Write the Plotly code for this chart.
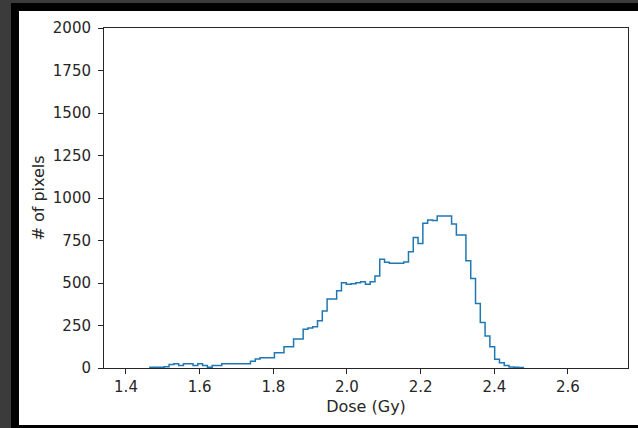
import numpy as np
import plotly.graph_objects as go

# Histogram definition (dose bins in Gy) and counts
BIN_START = 1.4
BIN_WIDTH = 0.013
counts = [
    0, 0, 0, 0, 0, 5, 5, 5, 8, 20,          # k 0-9
    25, 15, 25, 25, 15, 25, 15, 5, 15, 15,  # k 10-19
    25, 25, 25, 25, 25, 25, 40, 53, 60, 60, # k 20-29
    60, 90, 90, 125, 125, 170, 170, 228, 235, 243,  # k 30-39
    278, 335, 406, 406, 455, 502, 492, 495, 502, 508,  # k 40-49
    492, 508, 541, 639, 622, 616, 616, 616, 623, 684,  # k 50-59
    767, 733, 851, 870, 867, 894, 894, 894, 847, 782,  # k 60-69
    782, 631, 527, 380, 267, 188, 125, 51, 31, 14,     # k 70-79
    6, 4, 3, 0, 0, 0, 0, 0, 0, 0,                      # k 80-89
    0, 0, 0, 0, 0, 0, 0, 0, 0, 0,                      # k 90-99
]

x_ticks = [1.4, 1.6, 1.8, 2.0, 2.2, 2.4, 2.6]
x_tick_labels = ["1.4", "1.6", "1.8", "2.0", "2.2", "2.4", "2.6"]
y_ticks = [0, 250, 500, 750, 1000, 1250, 1500, 1750, 2000]
y_tick_labels = [str(v) for v in y_ticks]

edges = BIN_START + BIN_WIDTH * np.arange(len(counts) + 1)
# the zero-count stretches lie on the axis line (hidden, as in matplotlib)
nz = np.nonzero(counts)[0]
i0, i1 = nz[0], nz[-1] + 1
c = list(counts[i0:i1])
e = edges[i0:i1 + 1]
xs = [e[0]] + list(e[:-1]) + [e[-1]]
ys = [0] + c + [0]

W, H = 638, 428
L, R, T, B = 104, 10, 28, 60
PW, PH = W - L - R, H - T - B

fig = go.Figure()
fig.add_trace(go.Scatter(
    x=xs, y=ys, mode="lines", line=dict(color="#1f77b4", width=1.5, shape="hv"),
    hoverinfo="skip", showlegend=False,
))

def px_x(p):
    return (p - L) / PW

def px_y(p):
    return (H - B - p) / PH

shapes = []
def rect(x0, y0, x1, y1, color):
    shapes.append(dict(type="rect", xref="paper", yref="paper",
                       x0=px_x(x0), x1=px_x(x1), y0=px_y(y1), y1=px_y(y0),
                       fillcolor=color, line=dict(width=0), layer="above"))

rect(0, 0, 11, H, "#3b3b3b")
rect(0, 0, W, 3, "#3b3b3b")
rect(11, 3, 19, H, "#000000")
rect(11, 3, W, 11, "#000000")
rect(11, 425, W, H, "#000000")

font = "DejaVu Sans, sans-serif"
fig.update_layout(
    width=W, height=H,
    margin=dict(l=L, r=R, t=T, b=B, pad=0),
    paper_bgcolor="white", plot_bgcolor="white",
    shapes=shapes,
    font=dict(family=font, size=15, color="#262626"),
    xaxis=dict(
        range=[1.3403, 2.7630], tickmode="array", tickvals=x_ticks, ticktext=x_tick_labels,
        showgrid=False, zeroline=False, showline=True, linecolor="#262626", linewidth=1,
        mirror=True, ticks="outside", ticklen=5, tickcolor="#262626", tickwidth=1,
        title=dict(text="Dose (Gy)", standoff=5, font=dict(size=16)),
        automargin=False,
    ),
    yaxis=dict(
        range=[0, 2000], tickmode="array", tickvals=y_ticks, ticktext=y_tick_labels,
        showgrid=False, zeroline=False, showline=True, linecolor="#262626", linewidth=1,
        mirror=True, ticks="outside", ticklen=5, tickcolor="#262626", tickwidth=1,
        ticklabelstandoff=4,
        title=dict(text="# of pixels", standoff=4, font=dict(size=16)),
        automargin=False,
    ),
)

fig.write_html(
    "out.html",
    config={"displayModeBar": False},
    post_script="document.body.style.margin='0';document.body.style.overflow='hidden';",
)
